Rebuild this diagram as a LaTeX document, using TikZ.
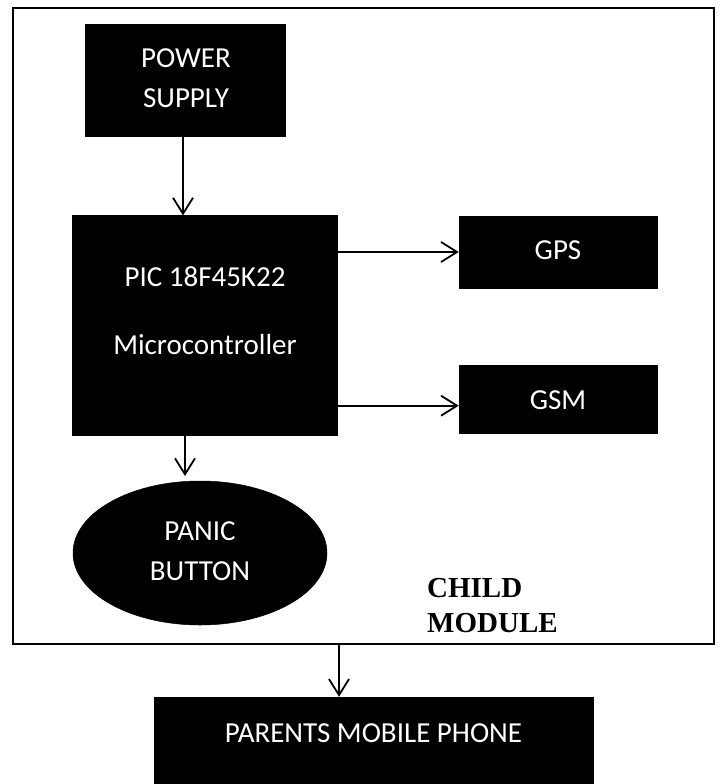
\documentclass[tikz,border=0pt]{standalone}
\usepackage{fontspec}
\setmainfont{Carlito}
\newfontfamily\serifbold{Liberation Serif}
\usetikzlibrary{arrows.meta,shapes.geometric}
\begin{document}
\begin{tikzpicture}[x=1pt,y=-1pt,
  blk/.style={fill=black,draw=black,line width=0.5pt,inner sep=0pt},
  lbl/.style={text=white,font=\fontsize{29}{35}\selectfont,anchor=base,inner sep=0pt},
  captxt/.style={font=\serifbold\bfseries\fontsize{29}{35}\selectfont,anchor=base west,inner sep=0pt},
  arr/.style={line width=1.8pt,-{Straight Barb[length=16pt,width=20pt,line width=1.8pt]}}]
\useasboundingbox (0,0) rectangle (720,784);
% outer frame
\node[draw,line width=2pt,minimum width=701.3pt,minimum height=635.7pt,inner sep=0pt] (frame) at (363.35,326.15) {};
% blocks
\node[blk,minimum width=199.3pt,minimum height=112pt] (power) at (185.35,80) {};
\node[blk,minimum width=264.3pt,minimum height=219.3pt] (pic) at (204.85,325.35) {};
\node[blk,minimum width=198pt,minimum height=72pt] (gps) at (558,252) {};
\node[blk,minimum width=198pt,minimum height=67.3pt] (gsm) at (558,399.35) {};
\node[blk,ellipse,minimum width=254pt,minimum height=144pt] (panic) at (200,553) {};
\node[blk,minimum width=439pt,minimum height=87pt] (parents) at (373.5,740.5) {};
% labels
\node[lbl] (t1) at (186,67) {POWER};
\node[lbl] (t2) at (186,107) {SUPPLY};
\node[lbl] (t3) at (205,286) {PIC 18F45K22};
\node[lbl] (t4) at (205,354) {Microcontroller};
\node[lbl] (t5) at (558,259) {GPS};
\node[lbl] (t6) at (558,409) {GSM};
\node[lbl] (t7) at (200,540) {PANIC};
\node[lbl] (t8) at (200,580) {BUTTON};
\node[lbl] (t9) at (373.5,742) {PARENTS MOBILE PHONE};
\node[captxt] (c1) at (427,597) {CHILD};
\node[captxt] (c2) at (427,632) {MODULE};
% connectors
\coordinate (fb) at (339,644);
\draw[arr] (power.south -| 183,0) -- (pic.north -| 183,0);
\draw[arr] (pic.east |- gps.west) -- (gps.west);
\draw[arr] (pic.east |- 0,405.7) -- (gsm.west |- 0,405.7);
\draw[arr] (pic.south -| 185,0) -- (185,476);
\draw[arr] (fb) -- (parents.north -| fb);
\end{tikzpicture}
\end{document}
